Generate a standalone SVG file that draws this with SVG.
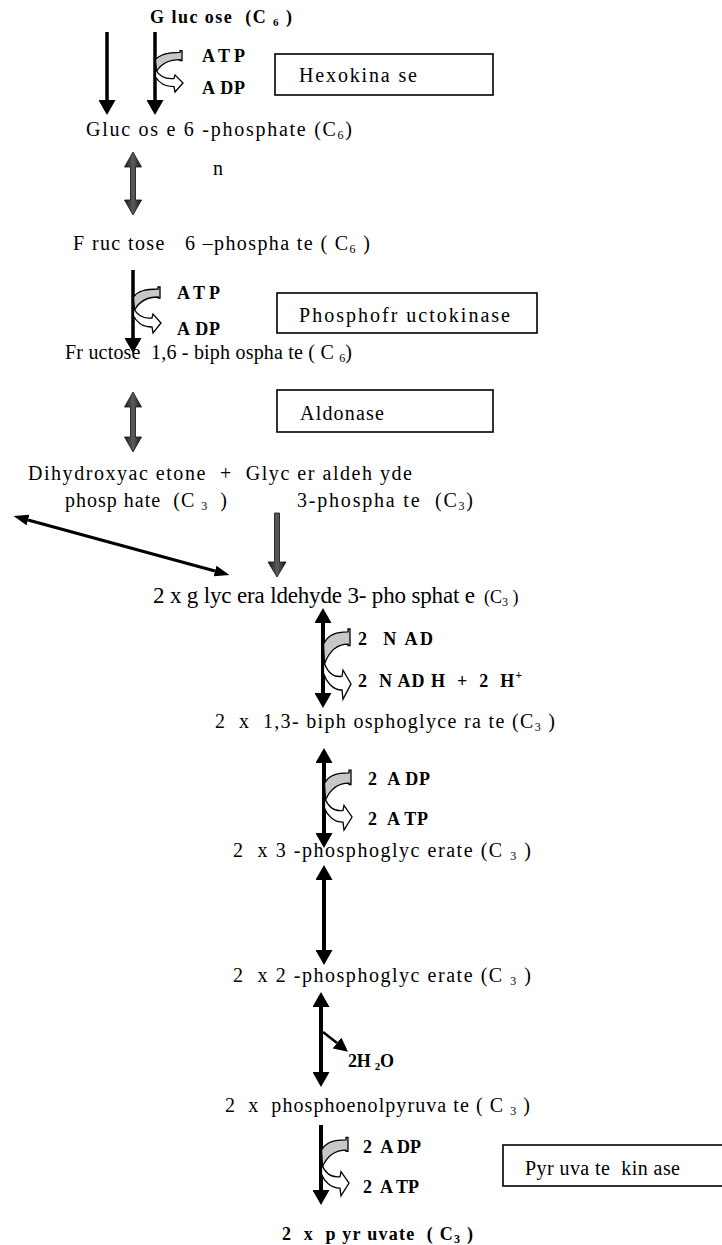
<svg xmlns="http://www.w3.org/2000/svg" xmlns:xlink="http://www.w3.org/1999/xlink" width="722" height="1245" viewBox="0 0 722 1245">
  <style>
    text { font-family: "Liberation Serif", "Times New Roman", serif; fill: #000; white-space: pre; }
    .r { font-size: 20px; }
    .big { font-size: 23px; }
    .b { font-weight: bold; font-size: 18px; }
    .box { fill: #fff; stroke: #000; stroke-width: 1.6; }
    .ln { fill: none; stroke: #000; }
    .dark { fill: url(#shade); stroke: #111; stroke-width: 0.8; }
    .coG { fill: #c8c8c8; stroke: #000; stroke-width: 1.3; }
    .coW { fill: #fff; stroke: #000; stroke-width: 1.3; }
  </style>
  <defs>
    <linearGradient id="shade" x1="0" y1="0" x2="1" y2="0">
      <stop offset="0" stop-color="#1a1a1a"/>
      <stop offset="0.5" stop-color="#5c5c5c"/>
      <stop offset="1" stop-color="#1a1a1a"/>
    </linearGradient>
    <marker id="ah" viewBox="0 0 15 17" markerWidth="15" markerHeight="17" refX="0" refY="8.5" orient="auto-start-reverse" markerUnits="userSpaceOnUse">
      <path d="M0,0 L15,8.5 L0,17 Z" fill="#000"/>
    </marker>
    <marker id="ahs" viewBox="0 0 15 11" markerWidth="15" markerHeight="11" refX="0" refY="5.5" orient="auto-start-reverse" markerUnits="userSpaceOnUse">
      <path d="M0,0 L15,5.5 L0,11 Z" fill="#000"/>
    </marker>
    <marker id="ahw" viewBox="0 0 14 14" markerWidth="14" markerHeight="14" refX="0" refY="7" orient="auto" markerUnits="userSpaceOnUse">
      <path d="M0,0 L14,7 L0,14 Z" fill="#000"/>
    </marker>
    <!-- cofactor in/out arrows: grey band entering, white arrow leaving; line at x=0 -->
    <g id="cofactor">
      <path class="coG" vector-effect="non-scaling-stroke" d="M0.5,4 C5,-2 12,-4 25,-4 L25,-6 L27,-6 L27,5 L25,5 L25,4 C14,4 6,9 1.5,17 Z"/>
      <path class="coW" vector-effect="non-scaling-stroke" d="M0.5,15 C4,22 10,26 19,25 L20,21 L28,30 L20,40 L19,34 C9,34 3,28 0.5,23 Z"/>
    </g>
  </defs>

  <!-- connectors -->
  <g id="connectors">
    <line class="ln" x1="107" y1="32" x2="107" y2="100" stroke-width="3.5" marker-end="url(#ah)"/>
    <line class="ln" x1="155" y1="32" x2="155" y2="100" stroke-width="3.5" marker-end="url(#ah)"/>
    <use xlink:href="#cofactor" transform="translate(155,56) scale(1,0.9)"/>

    <polygon class="dark" points="133,152 141.5,167 135.5,167 135.5,200 141.5,200 133,215 124.5,200 130.5,200 130.5,167 124.5,167"/>

    <line class="ln" x1="133" y1="270" x2="133" y2="338" stroke-width="3.5" marker-end="url(#ah)"/>
    <use xlink:href="#cofactor" transform="translate(133,293)"/>

    <polygon class="dark" points="133,392 141.5,407 135.5,407 135.5,437 141.5,437 133,452 124.5,437 130.5,437 130.5,407 124.5,407"/>

    <line class="ln" x1="28" y1="520" x2="215" y2="571" stroke-width="3" marker-start="url(#ahs)" marker-end="url(#ahs)"/>
    <polygon class="dark" points="274.5,513 279.5,513 279.5,562 286,562 277,577 268,562 274.5,562"/>

    <line class="ln" x1="323" y1="623" x2="323" y2="693" stroke-width="4" marker-start="url(#ah)" marker-end="url(#ah)"/>
    <use xlink:href="#cofactor" transform="translate(323,638) scale(1,1.53)"/>

    <line class="ln" x1="324" y1="763" x2="324" y2="833" stroke-width="4" marker-start="url(#ah)" marker-end="url(#ah)"/>
    <use xlink:href="#cofactor" transform="translate(324,778) scale(1,1.3)"/>

    <line class="ln" x1="324" y1="880" x2="324" y2="950" stroke-width="4" marker-start="url(#ah)" marker-end="url(#ah)"/>

    <line class="ln" x1="321" y1="1007" x2="321" y2="1072" stroke-width="4" marker-start="url(#ah)" marker-end="url(#ah)"/>
    <line class="ln" x1="323" y1="1032" x2="337" y2="1043" stroke-width="2.5" marker-end="url(#ahw)"/>

    <line class="ln" x1="321" y1="1125" x2="321" y2="1190" stroke-width="4" marker-end="url(#ah)"/>
    <use xlink:href="#cofactor" transform="translate(321,1145) scale(1,1.27)"/>
  </g>

  <g id="glucose"><text class="b" x="150" y="23" font-size="17" textLength="142">G luc ose  (C <tspan font-size="11" dy="3">6</tspan><tspan dy="-3"> )</tspan></text></g>
  <g id="cof-hexokinase"><text class="b" x="202" y="62" textLength="43">A T P</text><text class="b" x="202" y="94" textLength="43">A DP</text></g>
  <g id="hexokinase"><rect class="box" x="275" y="54" width="218" height="41"/><text class="r" x="299" y="82" textLength="118">Hexokina se</text></g>
  <g id="glucose-6-phosphate"><text class="r" x="86" y="136" textLength="266">Gluc os e 6 -phosphate (C<tspan font-size="12" dy="3">6</tspan><tspan dy="-3">)</tspan></text></g>
  <g id="isomerase-note"><text class="r" x="213" y="175">n</text></g>
  <g id="fructose-6-phosphate"><text class="r" x="73" y="250" textLength="297">F ruc tose   6 –phospha te ( C<tspan font-size="12" dy="3">6</tspan><tspan dy="-3"> )</tspan></text></g>
  <g id="cof-pfk"><text class="b" x="177" y="299" textLength="43">A T P</text><text class="b" x="177" y="335" textLength="43">A DP</text></g>
  <g id="phosphofructokinase"><rect class="box" x="277" y="293" width="260" height="40"/><text class="r" x="299" y="322" textLength="211">Phosphofr uctokinase</text></g>
  <g id="fructose-16-biphosphate"><text class="r" x="65" y="359" textLength="287">Fr uctose  1,6 - biph ospha te ( C <tspan font-size="12" dy="3">6</tspan><tspan dy="-3">)</tspan></text></g>
  <g id="aldolase"><rect class="box" x="277" y="390" width="216" height="42"/><text class="r" x="300" y="420" textLength="84">Aldonase</text></g>
  <g id="triose-phosphates"><text class="r" x="28" y="480" textLength="384">Dihydroxyac etone  +  Glyc er aldeh yde</text><text class="r" x="65" y="507" textLength="162">phosp hate  (C <tspan font-size="12" dy="3">3</tspan><tspan dy="-3">  )</tspan></text><text class="r" x="297" y="507" textLength="176">3-phospha te  (C<tspan font-size="12" dy="3">3</tspan><tspan dy="-3">)</tspan></text></g>
  <g id="glyceraldehyde-3-phosphate"><text class="big" x="153" y="603" textLength="322">2 x g lyc era ldehyde 3- pho sphat e</text><text x="484" y="603" font-size="18">(C<tspan font-size="12" dy="3">3</tspan><tspan dy="-3"> )</tspan></text></g>
  <g id="cof-nad"><text class="b" x="358" y="645" textLength="75">2  N AD</text><text class="b" x="358" y="687" textLength="164">2  N AD H  +  2  H<tspan font-size="12" dy="-8">+</tspan></text></g>
  <g id="biphosphoglycerate"><text class="r" x="215" y="728" textLength="340">2  x  1,3- biph osphoglyce ra te (C<tspan font-size="12" dy="3">3</tspan><tspan dy="-3"> )</tspan></text></g>
  <g id="cof-pgk"><text class="b" x="368" y="785" textLength="62">2  A DP</text><text class="b" x="368" y="825" textLength="60">2  A TP</text></g>
  <g id="3-phosphoglycerate"><text class="r" x="233" y="857" textLength="298">2  x 3 -phosphoglyc erate (C <tspan font-size="12" dy="3">3</tspan><tspan dy="-3"> )</tspan></text></g>
  <g id="2-phosphoglycerate"><text class="r" x="233" y="982" textLength="298">2  x 2 -phosphoglyc erate (C <tspan font-size="12" dy="3">3</tspan><tspan dy="-3"> )</tspan></text></g>
  <g id="water"><text class="b" x="348" y="1067" textLength="46">2H <tspan font-size="11" dy="3">2</tspan><tspan dy="-3">O</tspan></text></g>
  <g id="phosphoenolpyruvate"><text class="r" x="225" y="1112" textLength="305">2  x  phosphoenolpyruva te ( C <tspan font-size="12" dy="3">3</tspan><tspan dy="-3"> )</tspan></text></g>
  <g id="cof-pk"><text class="b" x="363" y="1153" textLength="58">2  A DP</text><text class="b" x="363" y="1193" textLength="56">2  A TP</text></g>
  <g id="pyruvate-kinase"><rect class="box" x="503" y="1145" width="225" height="41"/><text class="r" x="525" y="1175" textLength="155">Pyr uva te  kin ase</text></g>
  <g id="pyruvate"><text class="b" x="282" y="1240" textLength="191">2  x  p yr uvate  ( C<tspan font-size="12" dy="3">3</tspan><tspan dy="-3"> )</tspan></text></g>
</svg>
